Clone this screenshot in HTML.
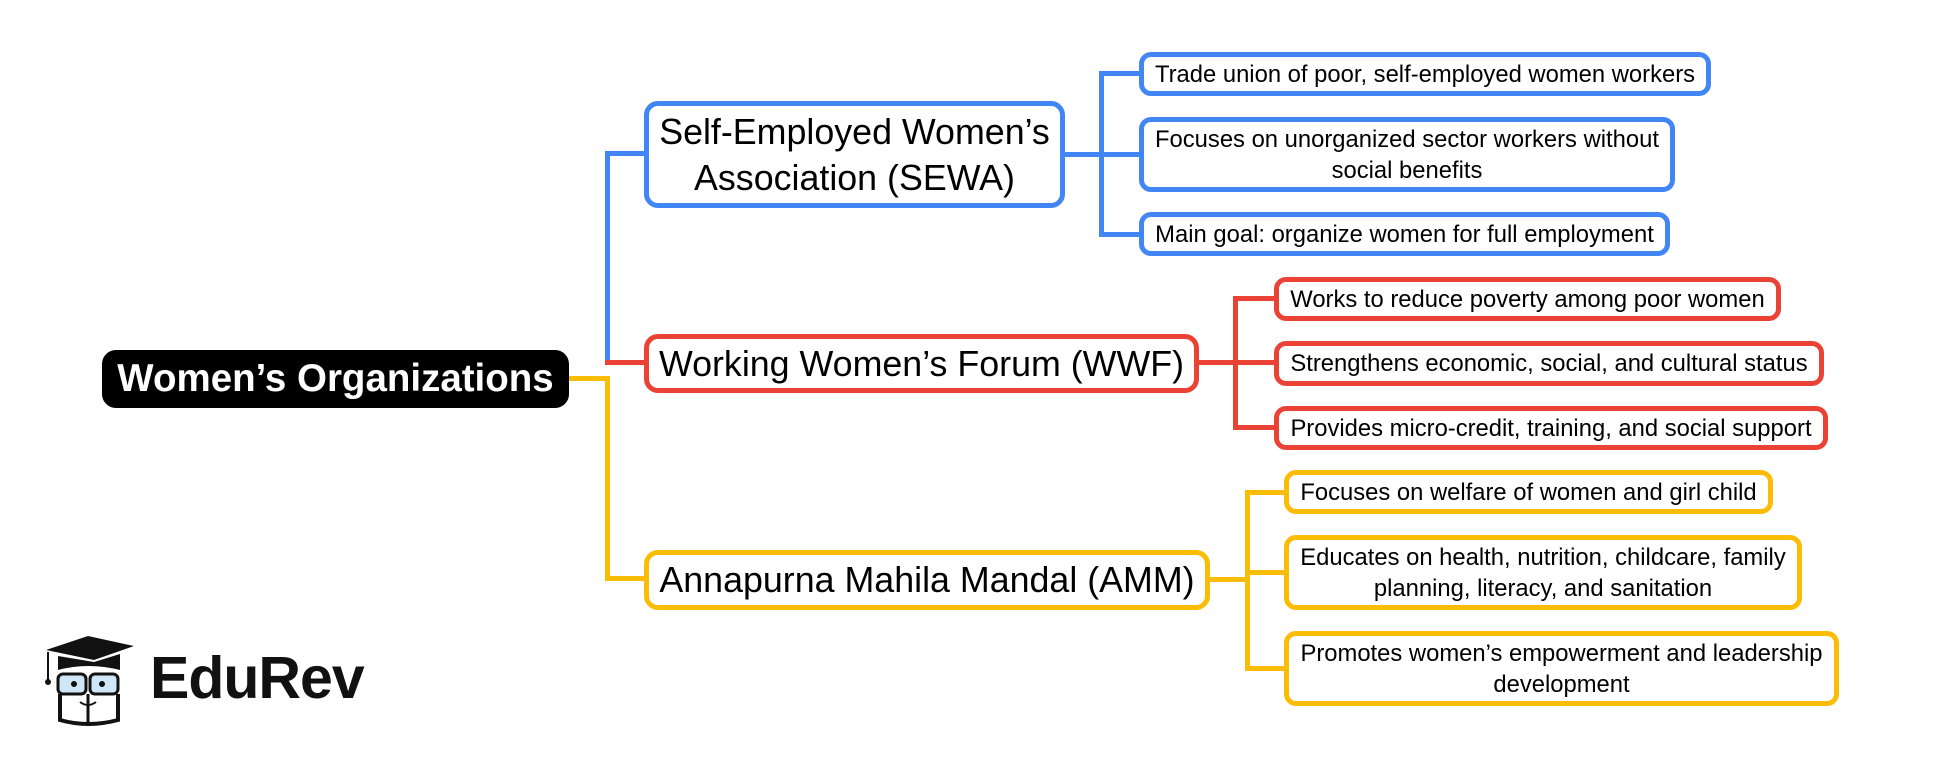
<!DOCTYPE html>
<html><head><meta charset="utf-8"><style>
body{margin:0;width:1941px;height:757px;background:#fff;position:relative;overflow:hidden;font-family:"Liberation Sans",Arial,sans-serif}
.b{position:absolute;box-sizing:border-box;border:5px solid;border-radius:14px;background:#fff;display:flex;align-items:center;justify-content:center;text-align:center;color:#000;white-space:nowrap}
.m{font-size:35.8px;line-height:46px}
.c{font-size:23.8px;line-height:31px;border-radius:12px}
.bl{border-color:#4285f4}.rd{border-color:#ea4335}.yl{border-color:#fbbc05}
.l{position:absolute}
</style></head><body>
<div class="l" style="left:568px;top:376px;width:42px;height:5px;background:#fbbc05"></div>
<div class="l" style="left:605px;top:151px;width:5px;height:214px;background:#4285f4"></div>
<div class="l" style="left:605px;top:151px;width:40px;height:5px;background:#4285f4"></div>
<div class="l" style="left:605px;top:360px;width:40px;height:5px;background:#ea4335"></div>
<div class="l" style="left:605px;top:376px;width:5px;height:204px;background:#fbbc05"></div>
<div class="l" style="left:605px;top:576px;width:40px;height:5px;background:#fbbc05"></div>

<div class="l" style="left:1062px;top:152px;width:40px;height:5px;background:#4285f4"></div>
<div class="l" style="left:1099px;top:71px;width:5px;height:166px;background:#4285f4"></div>
<div class="l" style="left:1099px;top:71px;width:42px;height:5px;background:#4285f4"></div>
<div class="l" style="left:1099px;top:152px;width:42px;height:5px;background:#4285f4"></div>
<div class="l" style="left:1099px;top:232px;width:42px;height:5px;background:#4285f4"></div>

<div class="l" style="left:1196px;top:360px;width:40px;height:5px;background:#ea4335"></div>
<div class="l" style="left:1233px;top:296px;width:5px;height:133px;background:#ea4335"></div>
<div class="l" style="left:1233px;top:296px;width:42px;height:5px;background:#ea4335"></div>
<div class="l" style="left:1233px;top:360px;width:42px;height:5px;background:#ea4335"></div>
<div class="l" style="left:1233px;top:425px;width:42px;height:5px;background:#ea4335"></div>

<div class="l" style="left:1207px;top:577px;width:42px;height:5px;background:#fbbc05"></div>
<div class="l" style="left:1245px;top:490px;width:5px;height:180px;background:#fbbc05"></div>
<div class="l" style="left:1245px;top:490px;width:42px;height:5px;background:#fbbc05"></div>
<div class="l" style="left:1245px;top:570px;width:42px;height:5px;background:#fbbc05"></div>
<div class="l" style="left:1245px;top:666px;width:42px;height:5px;background:#fbbc05"></div>

<div class="b" style="left:102px;top:350px;width:467px;height:58px;background:#000;border-color:#000;color:#fff;font-weight:bold;font-size:38.5px">Women’s Organizations</div>
<div class="b m bl" style="left:644px;top:101px;width:421px;height:107px">Self-Employed Women’s<br>Association (SEWA)</div>
<div class="b m rd" style="left:644px;top:334px;width:555px;height:59px">Working Women’s Forum (WWF)</div>
<div class="b m yl" style="left:644px;top:550px;width:566px;height:60px">Annapurna Mahila Mandal (AMM)</div>
<div class="b c bl" style="left:1139px;top:52px;width:572px;height:44px">Trade union of poor, self-employed women workers</div>
<div class="b c bl" style="left:1139px;top:117px;width:536px;height:75px">Focuses on unorganized sector workers without<br>social benefits</div>
<div class="b c bl" style="left:1139px;top:212px;width:531px;height:44px">Main goal: organize women for full employment</div>
<div class="b c rd" style="left:1274px;top:277px;width:507px;height:44px">Works to reduce poverty among poor women</div>
<div class="b c rd" style="left:1274px;top:341px;width:550px;height:45px">Strengthens economic, social, and cultural status</div>
<div class="b c rd" style="left:1274px;top:406px;width:554px;height:44px">Provides micro-credit, training, and social support</div>
<div class="b c yl" style="left:1284px;top:470px;width:489px;height:44px">Focuses on welfare of women and girl child</div>
<div class="b c yl" style="left:1284px;top:535px;width:518px;height:75px">Educates on health, nutrition, childcare, family<br>planning, literacy, and sanitation</div>
<div class="b c yl" style="left:1284px;top:631px;width:555px;height:75px">Promotes women’s empowerment and leadership<br>development</div>
<svg style="position:absolute;left:36px;top:636px" width="100" height="92" viewBox="0 0 100 92">
<polygon points="10,14 52,0 98,10 58,24" fill="#111"/>
<path d="M22,20 L22,34 Q52,26 84,34 L84,18 L58,26 Z" fill="#111"/>
<line x1="12" y1="16" x2="12" y2="44" stroke="#111" stroke-width="2"/>
<circle cx="12" cy="46" r="3" fill="#111"/>
<rect x="22" y="38" width="28" height="20" rx="5" fill="#cfe6f7" stroke="#111" stroke-width="3"/>
<rect x="54" y="38" width="28" height="20" rx="5" fill="#cfe6f7" stroke="#111" stroke-width="3"/>
<circle cx="38" cy="48" r="3" fill="#111"/><circle cx="66" cy="48" r="3" fill="#111"/>
<path d="M24,58 L24,84 Q52,92 82,84 L82,58" fill="none" stroke="#111" stroke-width="4"/>
<path d="M44,66 Q52,72 60,66" fill="none" stroke="#111" stroke-width="2"/>
<line x1="52" y1="58" x2="52" y2="90" stroke="#111" stroke-width="3"/>
</svg>
<div style="position:absolute;left:150px;top:642px;font-size:59px;font-weight:bold;color:#111;line-height:72px;letter-spacing:-1px">EduRev</div>
</body></html>
